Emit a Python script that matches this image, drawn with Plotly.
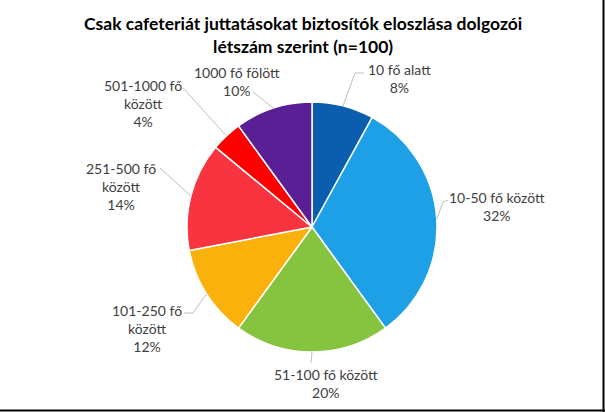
import math
import plotly.graph_objects as go

# ---- data ----
categories = ["10 fő alatt", "10-50 fő között", "51-100 fő között", "101-250 fő között",
              "251-500 fő között", "501-1000 fő között", "1000 fő fölött"]
values = [8, 32, 20, 12, 14, 4, 10]
label_texts = ["10 fő alatt<br>8%", "10-50 fő között<br>32%", "51-100 fő között<br>20%",
               "101-250 fő<br>között<br>12%", "251-500 fő<br>között<br>14%",
               "501-1000 fő<br>között<br>4%", "1000 fő fölött<br>10%"]
colors = ["#0B5DAE", "#1EA0E6", "#86C43F", "#FBB10B", "#F7343F", "#FF0000", "#5A1F94"]

# ---- layout (pixels) ----
W, H = 605, 412
ML, MR, MT, MB = 19, 0, 102, 60
PW, PH = W - ML - MR, H - MT - MB
CX, CY = ML + PW / 2, MT + PH / 2
R = min(PW, PH) / 2

def px(x):
    return (x - ML) / PW

def py(y):
    return (H - MB - y) / PH

# label centre (x, y of text block centre) and leader-line end points (pixels)
label_pos = [(399, 79), (497, 206), (326, 383), (147, 328), (121, 186), (143, 103), (237, 82)]
leader_ends = [[(355, 73), (364, 73)], [(443, 202), (448, 200)], [(311, 363)],
               [(193, 313), (184, 313)], [(160, 168)], [(183, 88)], [(253, 92)]]

fig = go.Figure(go.Pie(
    labels=categories, values=values, sort=False, direction="clockwise", rotation=0,
    marker=dict(colors=colors, line=dict(color="white", width=1.5)),
    textinfo="none", hoverinfo="label+percent", showlegend=False,
))

shapes = []
annotations = []
total = sum(values)
cum = 0
for i, v in enumerate(values):
    mid = (cum + v / 2) / total * 2 * math.pi
    cum += v
    sx, sy = CX + R * math.sin(mid), CY - R * math.cos(mid)
    pts = [(sx, sy)] + leader_ends[i]
    path = "M " + " L ".join(f"{px(x)},{py(y)}" for x, y in pts)
    shapes.append(dict(type="path", xref="paper", yref="paper", path=path,
                       line=dict(color="#BFBFBF", width=1)))
    lx, ly = label_pos[i]
    annotations.append(dict(x=px(lx), y=py(ly), xref="paper", yref="paper",
                            text=label_texts[i], showarrow=False, align="center",
                            xanchor="center", yanchor="middle",
                            font=dict(family="Lato", size=14, color="#404040")))

# frame lines (right & bottom)
shapes.append(dict(type="line", xref="paper", yref="paper", x0=px(603.5), x1=px(603.5),
                   y0=py(0), y1=py(H), line=dict(color="black", width=2)))
shapes.append(dict(type="line", xref="paper", yref="paper", x0=px(0), x1=px(W),
                   y0=py(410.5), y1=py(410.5), line=dict(color="black", width=2)))

annotations.append(dict(x=px(W / 2), y=py(35), xref="paper", yref="paper",
                        text="<b>Csak cafeteriát juttatásokat biztosítók eloszlása dolgozói<br>létszám szerint (n=100)</b>",
                        showarrow=False, align="center", xanchor="center", yanchor="middle",
                        font=dict(family="Lato", size=17.5, color="#000000")))

fig.update_layout(width=W, height=H, margin=dict(l=ML, r=MR, t=MT, b=MB),
                  paper_bgcolor="white", plot_bgcolor="white",
                  shapes=shapes, annotations=annotations)
fig.write_html("out.html", config={"displayModeBar": False},
               post_script="document.body.style.margin='0';")
